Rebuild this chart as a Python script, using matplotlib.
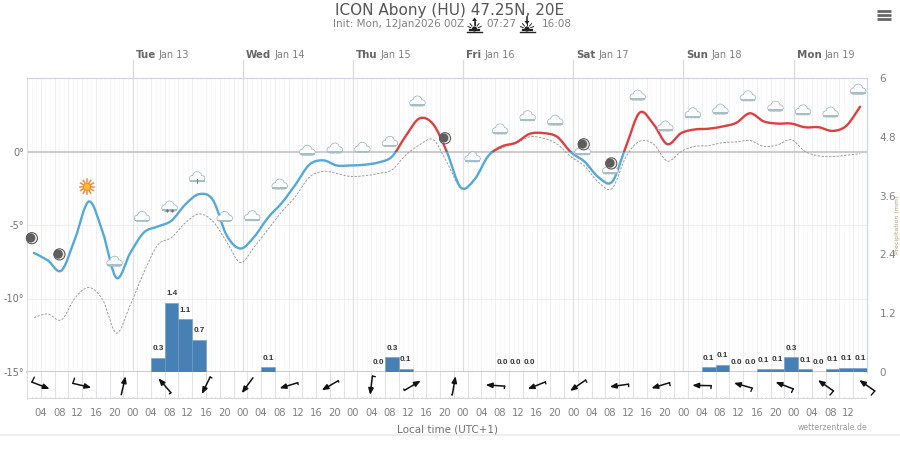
import matplotlib
matplotlib.use("Agg")
import numpy as np
import matplotlib.pyplot as plt
from matplotlib.path import Path
from matplotlib.patches import PathPatch, Rectangle, Circle, Polygon

# hours are counted from Tue Jan 13 00:00 local time
hour_start = -21.5
hour_step = 3

temperature = [
    -6.9, -7.4, -8.1, -5.9, -3.4, -5.5, -8.6, -6.9, -5.5, -5.1, -4.7, -3.6, -2.9, -3.3, -5.7, -6.6,
    -5.8, -4.5, -3.5, -2.25, -0.9, -0.6, -0.95, -0.95, -0.9, -0.75, -0.35, 1.05, 2.25, 1.85, -0.05,
    -2.45, -1.9, -0.3, 0.35, 0.6, 1.2, 1.25, 1.0, -0.05, -0.7, -1.75, -2.05, 0.35, 2.65, 1.85, 0.5,
    1.25, 1.5, 1.55, 1.7, 1.95, 2.6, 2.05, 1.9, 1.9, 1.65, 1.65, 1.4, 1.75, 3.05,
]
dewpoint = [
    -11.3, -11.05, -11.45, -9.95, -9.25, -10.1, -12.35, -10.45, -8.2, -6.35, -5.85, -4.85, -4.25,
    -4.75, -6.15, -7.55, -6.5, -5.3, -4.1, -3.05, -1.75, -1.35, -1.5, -1.7, -1.65, -1.5, -1.25,
    -0.25, 0.45, 0.8, -0.75, -2.45, -1.9, -0.35, 0.25, 0.55, 1.0, 0.9, 0.5, -0.35, -1.0, -2.1, -2.5,
    -0.35, 0.7, 0.5, -0.65, 0.0, 0.35, 0.4, 0.6, 0.65, 0.75, 0.35, 0.45, 0.8, 0.0, -0.3, -0.35,
    -0.25, -0.15,
]

precip_start = [4, 7, 10, 13, 28, 52, 55, 58, 79, 82, 85, 124, 127, 130, 133, 136, 139, 142, 145, 148, 151, 154, 157]
precip = [0.29, 1.41, 1.08, 0.66, 0.1, 0.0, 0.3, 0.07, 0.0, 0.0, 0.01, 0.1, 0.15, 0.0, 0.0, 0.06, 0.07, 0.3, 0.06, 0.0, 0.07, 0.09, 0.09]

# wind arrows, one every 9 h: heading in degrees (counter clockwise from east), speed sets the barb
wind_start = -20
wind_heading = [-21, -13, 77, 131, -116, -126, -163, -150, -97, 31, 80, 176, -158, -145, -172, -163, 179, 164, 159, 145, 145]
wind_speed = [11, 11, 0, 4, 4, 0, 4, 3, 6, 3, 1, 5, 4, 5, 5, 6, 6, 7, 8, 11, 11]

# weather symbols, one every 6 h
icon_kind = ["moon", "moon", "sun", "cloud", "cloud", "snow", "drizzle", "cloud", "cloud", "cloud", "cloud", "cloud", "cloud",
             "cloud", "cloud", "moon", "cloud", "cloud", "cloud", "cloud", "mooncloud", "mooncloud", "cloud", "cloud", "cloud",
             "cloud", "cloud", "cloud", "cloud", "cloud", "cloud"]
icon_temp = [-5.9, -7.0, -2.4, -7.5, -4.45, -3.75, -1.75, -4.45, -4.4, -2.25, 0.05, 0.2, 0.25, 0.65, 3.4, 0.9, -0.4, 1.5, 2.4,
             2.1, 0.15, -1.15, 3.8, 1.7, 2.6, 2.85, 3.75, 3.05, 2.8, 2.65, 4.2]

day_names = ["Tue", "Wed", "Thu", "Fri", "Sat", "Sun", "Mon"]
day_dates = ["Jan 13", "Jan 14", "Jan 15", "Jan 16", "Jan 17", "Jan 18", "Jan 19"]
temp_ticks = [0, -5, -10, -15]
precip_ticks = [0, 1.2, 2.4, 3.6, 4.8, 6]

W, H = 900, 449
X0, X1, Y0, Y1, Y2 = 27, 867, 78, 372, 399
HMIN, HMAX = -23, 160


def smooth_path(xs, ys):
    # catmull-rom style bezier through the read values, the look of the site's spline
    pts = np.column_stack([xs, ys])
    verts = [pts[0]]
    codes = [Path.MOVETO]
    for i in range(len(pts) - 1):
        p0 = pts[max(i - 1, 0)]
        p1 = pts[i]
        p2 = pts[i + 1]
        p3 = pts[min(i + 2, len(pts) - 1)]
        verts += [p1 + (p2 - p0) / 6, p2 - (p3 - p1) / 6, p2]
        codes += [Path.CURVE4] * 3
    return Path(verts, codes)


fig = plt.figure(figsize=(W / 100, H / 100), dpi=100)
ax = fig.add_axes([X0 / W, 1 - Y1 / H, (X1 - X0) / W, (Y1 - Y0) / H])
ax.set_xlim(HMIN, HMAX)
ax.set_ylim(-15, 5)

# grid
for h in range(HMIN, HMAX + 1):
    strong = (h - 1) % 3 == 0
    ax.axvline(h, color="#f0f0f4" if strong else "#f9f9fb", lw=0.8, zorder=0)
for t in [-5, -10]:
    ax.axhline(t, color="#efefef", lw=0.8, zorder=0)
ax.axhline(0, color="#c4c4c4", lw=1.2, zorder=1)
for d in range(len(day_names)):
    ax.axvline(24 * d, color="#e0e0e6", lw=0.9, zorder=0.5)

hours = hour_start + hour_step * np.arange(len(temperature))

# temperature, blue below zero and red above
temp_path = smooth_path(hours, temperature)
cold = PathPatch(temp_path, fill=False, edgecolor="#55a9d6", lw=1.7, capstyle="round", zorder=3)
warm = PathPatch(temp_path, fill=False, edgecolor="#dc4040", lw=1.7, capstyle="round", zorder=3)
ax.add_patch(cold)
ax.add_patch(warm)
cold.set_clip_path(Rectangle((HMIN, -15), HMAX - HMIN, 15, transform=ax.transData))
warm.set_clip_path(Rectangle((HMIN, 0), HMAX - HMIN, 5, transform=ax.transData))

dew = PathPatch(smooth_path(hours, dewpoint), fill=False, edgecolor="#969696", lw=0.65, ls=(0, (2.6, 1.6)), zorder=2.5)
ax.add_patch(dew)

ax.set_xticks([])
ax.set_yticks(temp_ticks)
ax.set_yticklabels([f"{t}°" for t in temp_ticks])
ax.tick_params(axis="y", length=0, pad=2, labelsize=7, labelcolor="#707070")
ax.spines["left"].set_color("#dcdce4")
ax.spines["top"].set_color("#ccd2e4")
ax.spines["right"].set_color("#ccd2e4")
ax.spines["bottom"].set_color("#c8c8c8")
ax.spines["bottom"].set_linewidth(1.3)

# precipitation on its own scale
ax_p = ax.twinx()
ax_p.set_ylim(0, 6)
ax_p.bar(precip_start, precip, width=3, align="edge", color="#4680b5", edgecolor="#6f9cc6", lw=0.4, zorder=2)
for h, v in zip(precip_start, precip):
    ax_p.annotate(f"{v:.1f}", (h + 1.5, v), xytext=(0, 6.5), textcoords="offset points", ha="center", va="center",
                  fontsize=5.8, fontweight="bold", family="Liberation Sans", color="#333333")
ax_p.set_yticks(precip_ticks)
ax_p.set_yticklabels([f"{p:g}" for p in precip_ticks])
ax_p.tick_params(axis="y", length=0, pad=9, labelsize=7.5, labelcolor="#808080")
for s in ax_p.spines.values():
    s.set_visible(False)

# wind strip below the plot
ax_w = fig.add_axes([X0 / W, 1 - Y2 / H, (X1 - X0) / W, (Y2 - Y1) / H])
ax_w.set_xlim(HMIN, HMAX)
ax_w.set_ylim(Y2 - Y1, 0)
for h in range(HMIN, HMAX + 1):
    if (h - 1) % 3 == 0:
        ax_w.axvline(h, color="#e2e2e2", lw=0.8, zorder=0)
    ax_w.plot([h, h], [Y2 - Y1 - 2, Y2 - Y1], color="#d4d8e4", lw=0.6, zorder=0)
ax_w.plot([HMIN, HMAX], [Y2 - Y1 - 1, Y2 - Y1 - 1], color="#d4d8e4", lw=0.8, zorder=0)
px_per_hour = (X1 - X0) / (HMAX - HMIN)
for i, (hd, sp) in enumerate(zip(wind_heading, wind_speed)):
    hc = wind_start + 9 * i
    a = np.radians(hd)
    dx, dy = 9.5 * np.cos(a), -9.5 * np.sin(a)
    tail = (hc - dx / px_per_hour, 13.5 - dy)
    head = (hc + dx / px_per_hour, 13.5 + dy)
    ax_w.annotate("", xy=head, xytext=tail, annotation_clip=False,
                  arrowprops=dict(arrowstyle="-|>,head_length=0.42,head_width=0.17", color="#111111", lw=1.1,
                                  shrinkA=0, shrinkB=0, mutation_scale=9))
    if sp > 0:
        b = np.radians(hd + 85)
        ax_w.plot([tail[0], tail[0] + sp / 2 * np.cos(b) / px_per_hour], [tail[1], tail[1] - sp / 2 * np.sin(b)],
                  color="#111111", lw=1.0, clip_on=False, solid_capstyle="round")
wind_ticks = list(range(-20, HMAX, 4))
ax_w.set_xticks(wind_ticks)
ax_w.set_xticklabels([f"{h % 24:02d}" for h in wind_ticks])
ax_w.tick_params(axis="x", length=0, pad=6.5, labelsize=7.2, labelcolor="#808080")
ax_w.set_yticks([])
for k, s in ax_w.spines.items():
    s.set_visible(k == "left")
ax_w.spines["left"].set_color("#dcdce4")

# overlay in pixels for symbols and page furniture
ov = fig.add_axes([0, 0, 1, 1], zorder=10)
ov.set_xlim(0, W)
ov.set_ylim(H, 0)
ov.axis("off")
ov.patch.set_alpha(0)


def to_px(h, t):
    return X0 + (h - HMIN) * px_per_hour, Y1 - (t + 15) / 20 * (Y1 - Y0)


def draw_cloud(x, y):
    lobes = [(x, y - 1, 4.4), (x - 4.6, y + 1.4, 3.0), (x + 4.6, y + 1.4, 3.0), (x - 1.5, y + 1.5, 3.0), (x + 2, y + 1.5, 3.0)]
    for cx, cy, r in lobes:
        ov.add_patch(Circle((cx, cy), r, fc="#eef3f5", ec="#a5bac2", lw=0.8, zorder=5))
    for cx, cy, r in lobes:
        ov.add_patch(Circle((cx, cy), r - 0.3, fc="#fbfcfd", ec="none", zorder=5.1))
    ov.add_patch(Rectangle((x - 7.4, y + 2.7), 14.8, 1.7, fc="#a9bdc6", ec="none", zorder=5.2))


def draw_moon(x, y):
    ov.add_patch(Circle((x, y), 5.6, fc="#e9e9da", ec="#4f4f4f", lw=0.7, zorder=6))
    ov.add_patch(Circle((x - 1.2, y - 0.3), 4.6, fc="#5e5e5e", ec="none", zorder=6.1))


def draw_sun(x, y):
    for a in np.arange(0, 360, 30):
        c, s = np.cos(np.radians(a)), np.sin(np.radians(a))
        ov.plot([x + 4.5 * c, x + 7.4 * c], [y + 4.5 * s, y + 7.4 * s], color="#f0883a", lw=1.1, zorder=6)
    ov.add_patch(Circle((x, y), 3.6, fc="#fbc02d", ec="#f0883a", lw=0.8, zorder=6.1))


for i, (kind, t) in enumerate(zip(icon_kind, icon_temp)):
    h = hour_start + 6 * i
    x, y = to_px(h, t)
    x -= 2
    if kind == "moon":
        draw_moon(x, y)
    elif kind == "sun":
        draw_sun(x, y)
    elif kind == "mooncloud":
        draw_moon(x + 1, y - 5)
        draw_cloud(x, y + 1)
    else:
        draw_cloud(x, y)
        if kind == "snow":
            ov.text(x - 2.8, y + 7, "*", fontsize=6.5, ha="center", va="center", color="#555555", zorder=6)
            ov.text(x + 2.8, y + 7, "*", fontsize=6.5, ha="center", va="center", color="#555555", zorder=6)
        if kind == "drizzle":
            ov.plot([x, x], [y + 2, y + 6], color="#666666", lw=0.6, zorder=6)

# day headers
for d, (name, date) in enumerate(zip(day_names, day_dates)):
    x, _ = to_px(24 * d, 0)
    ov.plot([x, x], [60, Y0], color="#d8d8e0", lw=0.9, zorder=0)
    t = ov.text(x + 3, 54.5, name, fontsize=7.4, fontweight="bold", color="#666666", ha="left", va="center")
    bb = t.get_window_extent(fig.canvas.get_renderer())
    ov.text(x + 3 + bb.width + 3, 54.5, date, fontsize=7, color="#808080", ha="left", va="center")


def draw_sun_mark(x, up):
    # little sunrise / sunset sign of the header
    ov.plot([x - 7.5, x + 7.5], [32, 32], color="#222222", lw=1.0)
    ov.plot([x - 4.5, x + 4.5], [29.8, 29.8], color="#222222", lw=1.6)
    ov.add_patch(Circle((x, 29), 2.6, fc="#222222", ec="none"))
    for a in [20, 50, 90, 130, 160]:
        c, s = np.cos(np.radians(a)), np.sin(np.radians(a))
        ov.plot([x + 4 * c, x + 7 * c], [29 - 4 * s, 29 - 7 * s], color="#222222", lw=0.7)
    if up:
        ov.plot([x, x], [20, 25], color="#222222", lw=1.1)
        ov.add_patch(Polygon([[x - 2.5, 21], [x + 2.5, 21], [x, 17.5]], fc="#222222", ec="none"))
    else:
        ov.plot([x, x], [17, 22], color="#222222", lw=1.1)
        ov.add_patch(Polygon([[x - 2.5, 21], [x + 2.5, 21], [x, 24.5]], fc="#222222", ec="none"))


ov.text(450, 10.5, "ICON Abony (HU) 47.25N, 20E", fontsize=11, color="#555555", ha="center", va="center")
ov.text(333, 24, "Init: Mon, 12Jan2026 00Z", fontsize=7.45, color="#808080", ha="left", va="center")
draw_sun_mark(474.5, True)
ov.text(486, 24, "07:27", fontsize=7.45, color="#808080", ha="left", va="center")
draw_sun_mark(527, False)
ov.text(541.5, 24, "16:08", fontsize=7.45, color="#808080", ha="left", va="center")

ov.text(447.5, 429, "Local time (UTC+1)", fontsize=7.5, color="#707070", ha="center", va="center")
ov.text(867, 427, "wetterzentrale.de", fontsize=5.6, color="#9a9a9a", ha="right", va="center")
ov.plot([0, W], [435, 435], color="#eeeeee", lw=1.5)

# axis title squeezed against the page edge
ov.text(897.3, 225, "Precipitation (mm)", fontsize=4.5, color="#b59a6a", rotation=90, ha="center", va="center")

# menu button
for y in [10.5, 14.5, 18.7]:
    ov.plot([877, 891], [y, y], color="#666666", lw=2.0, solid_capstyle="butt")

fig.savefig("out.png", dpi=100)
